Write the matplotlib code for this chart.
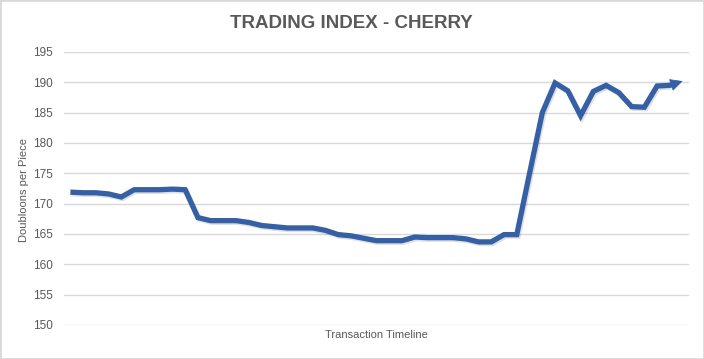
import matplotlib
matplotlib.use('Agg')
import matplotlib.pyplot as plt
import matplotlib.patheffects as pe
from matplotlib.patches import Rectangle

# Donnees
prix = [171.9, 171.8, 171.8, 171.6, 171.1, 172.3, 172.3, 172.3, 172.4, 172.3,
        167.7, 167.2, 167.2, 167.2, 166.9, 166.4, 166.2, 166.0, 166.0, 166.0,
        165.6, 164.9, 164.7, 164.3, 163.9, 163.9, 163.9, 164.5, 164.4, 164.4,
        164.4, 164.2, 163.7, 163.7, 164.9, 164.9, 175.0, 185.0, 189.9, 188.6,
        184.5, 188.5, 189.5, 188.3, 186.0, 185.9, 189.4, 189.5, 190.2]
y_ticks = [150, 155, 160, 165, 170, 175, 180, 185, 190, 195]
titre = 'TRADING INDEX - CHERRY'
label_x = 'Transaction Timeline'
label_y = 'Doubloons per Piece'

plt.rcParams['font.family'] = ['Liberation Sans', 'DejaVu Sans']

bleu = '#3560A6'
gris_txt = '#595959'

fig = plt.figure(figsize=(7.04, 3.59), dpi=100)
ax = fig.add_axes([64 / 704, 34 / 359, 625 / 704, 273 / 359])

x = list(range(len(prix)))
ombre = [pe.SimpleLineShadow(offset=(1, -1.2), alpha=0.12, shadow_color='black'), pe.Normal()]
ax.plot(x[:-1], prix[:-1], color=bleu, lw=3.8, solid_joinstyle='miter',
        solid_capstyle='butt', path_effects=ombre, zorder=3)
# dernier segment + pointe de fleche
ax.annotate('', xy=(x[-1], prix[-1]), xytext=(x[-2], prix[-2]),
            arrowprops=dict(arrowstyle='-', color=bleu, lw=3.8,
                            shrinkA=0, shrinkB=5), zorder=3)
ax.annotate('', xy=(x[-1], prix[-1]), xytext=(x[-2], prix[-2]),
            arrowprops=dict(arrowstyle='-|>', color=bleu, lw=0.5,
                            mutation_scale=20, shrinkA=0, shrinkB=0), zorder=3)

ax.set_xlim(-0.5, len(prix) - 0.5)
ax.set_ylim(150, 195)
ax.set_yticks(y_ticks)
ax.set_xticks([])
ax.grid(axis='y', color='#d9d9d9', lw=1)
ax.set_axisbelow(True)
for s in ax.spines.values():
    s.set_visible(False)
ax.tick_params(axis='y', length=0, pad=8, labelsize=8.5, labelcolor=gris_txt)

fig.text(351 / 704, 1 - 23 / 359, titre, fontsize=13.5, fontweight='bold',
         color=gris_txt, ha='center', va='center')
fig.text(376 / 704, 1 - 335 / 359, label_x, fontsize=8, color=gris_txt,
         ha='center', va='center')
fig.text(24 / 704, 1 - 190 / 359, label_y, fontsize=8, color=gris_txt,
         ha='center', va='center', rotation=90)

fig.patches.append(Rectangle((0, 0), 1, 1, transform=fig.transFigure, fill=False,
                             edgecolor='#d9d9d9', lw=2))

fig.savefig('out.png', dpi=100)
